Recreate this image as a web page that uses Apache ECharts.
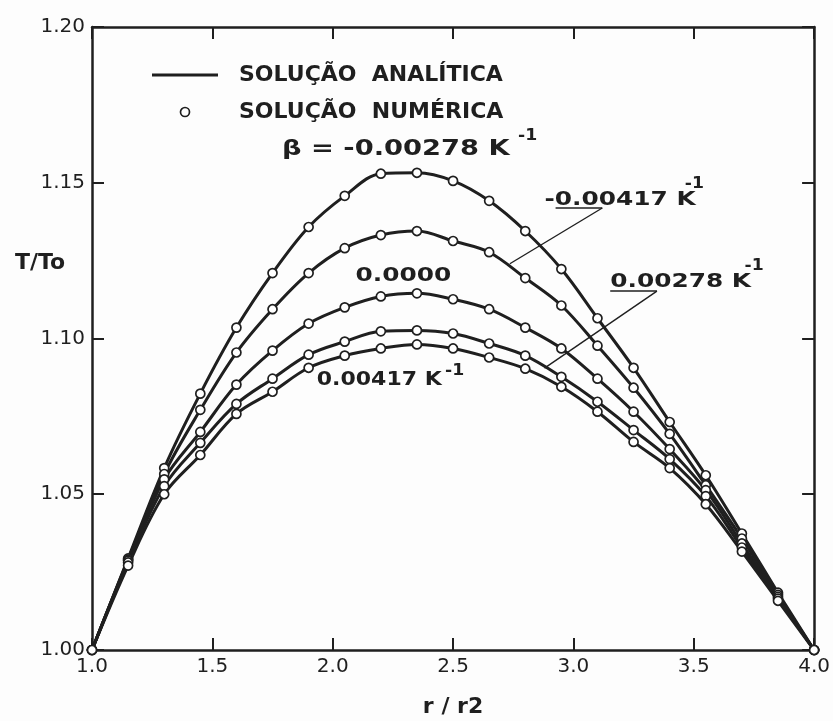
<!DOCTYPE html>
<html>
<head>
<meta charset="utf-8">
<script src="https://cdn.jsdelivr.net/npm/echarts@6/dist/echarts.min.js"></script>
<style>
  html, body { margin: 0; padding: 0; background: #fdfdfd; }
  #chart { width: 833px; height: 721px; }
</style>
</head>
<body>
<div id="chart"></div>
<script>
// Radial nodes r/r2 where the temperature is evaluated
const radius = [1.00, 1.15, 1.30, 1.45, 1.60, 1.75, 1.90, 2.05, 2.20, 2.35, 2.50,
                2.65, 2.80, 2.95, 3.10, 3.25, 3.40, 3.55, 3.70, 3.85, 4.00];

// T/To profiles, one per value of beta (K^-1)
const tBetaNeg00278 = [1.0000, 1.0294, 1.0584, 1.0823, 1.1035, 1.1210, 1.1358, 1.1458, 1.1529, 1.1532, 1.1506,
                       1.1442, 1.1345, 1.1223, 1.1065, 1.0906, 1.0732, 1.0561, 1.0374, 1.0184, 1.0000];
const tBetaNeg00417 = [1.0000, 1.0290, 1.0565, 1.0771, 1.0955, 1.1094, 1.1210, 1.1290, 1.1332, 1.1345, 1.1313,
                       1.1277, 1.1194, 1.1106, 1.0977, 1.0842, 1.0694, 1.0529, 1.0358, 1.0177, 1.0000];
const tBetaZero     = [1.0000, 1.0287, 1.0548, 1.0700, 1.0852, 1.0961, 1.1048, 1.1100, 1.1135, 1.1145, 1.1126,
                       1.1094, 1.1035, 1.0968, 1.0871, 1.0765, 1.0645, 1.0513, 1.0342, 1.0171, 1.0000];
const tBetaPos00278 = [1.0000, 1.0281, 1.0526, 1.0665, 1.0790, 1.0871, 1.0948, 1.0990, 1.1023, 1.1026, 1.1016,
                       1.0984, 1.0945, 1.0877, 1.0797, 1.0706, 1.0613, 1.0494, 1.0329, 1.0165, 1.0000];
const tBetaPos00417 = [1.0000, 1.0271, 1.0500, 1.0626, 1.0758, 1.0829, 1.0906, 1.0945, 1.0968, 1.0981, 1.0968,
                       1.0939, 1.0903, 1.0845, 1.0765, 1.0668, 1.0584, 1.0468, 1.0316, 1.0158, 1.0000];

const betaLabels = ['-0.00278', '-0.00417', '0.0000', '0.00278', '0.00417'];
const profiles   = [tBetaNeg00278, tBetaNeg00417, tBetaZero, tBetaPos00278, tBetaPos00417];

const seriesNames = ['SOLUÇÃO  ANALÍTICA', 'SOLUÇÃO  NUMÉRICA'];
const xTickLabels = ['1.0', '1.5', '2.0', '2.5', '3.0', '3.5', '4.0'];
const yTickLabels = ['1.00', '1.05', '1.10', '1.15', '1.20'];
const xAxisTitle = 'r / r2';
const yAxisTitle = 'T/To';

// ---- styling ----
const INK = '#1f1f1f';
const X_MIN = 1, X_MAX = 4, X_STEP = 0.5;
const Y_MIN = 1, Y_MAX = 1.2, Y_STEP = 0.05;

const tickLabelFont = { fontFamily: 'DejaVu Sans', fontSize: 20, color: INK };

const xLabel = v => xTickLabels[Math.round((v - X_MIN) / X_STEP)];
const yLabel = v => yTickLabels[Math.round((v - Y_MIN) / Y_STEP)];

function frameAxis(extra) {
  return Object.assign({
    type: 'value',
    axisLine: { show: true, onZero: false, lineStyle: { color: INK, width: 2.5 } },
    axisTick: { show: true, inside: true, length: 12, lineStyle: { color: INK, width: 2 } },
    splitLine: { show: false }
  }, extra);
}

const pairs = arr => radius.map((r, i) => [r, arr[i]]);

const series = [];
profiles.forEach(p => {
  series.push({
    name: seriesNames[0],
    type: 'line',
    data: pairs(p),
    smooth: 0.35,
    symbol: 'none',
    lineStyle: { color: INK, width: 3 },
    itemStyle: { color: INK },
    z: 2,
    animation: false
  });
});
profiles.forEach(p => {
  series.push({
    name: seriesNames[1],
    type: 'scatter',
    data: pairs(p),
    symbol: 'circle',
    symbolSize: 9,
    itemStyle: { color: '#ffffff', borderColor: INK, borderWidth: 1.7, opacity: 1 },
    z: 4,
    animation: false
  });
});

// leader lines pointing from the underlined labels to their curves
series[0].markLine = {
  silent: true,
  animation: false,
  symbol: ['none', 'arrow'],
  symbolSize: [0, 9],
  label: { show: false },
  lineStyle: { color: INK, width: 1.4, type: 'solid' },
  data: [
    [{ coord: [3.12, 1.1419] }, { coord: [2.736, 1.1240] }],
    [{ coord: [3.347, 1.1152] }, { coord: [2.880, 1.0905] }]
  ]
};
series[1].markLine = {
  silent: true,
  animation: false,
  symbol: ['none', 'none'],
  label: { show: false },
  lineStyle: { color: INK, width: 1.6, type: 'solid' },
  data: [
    [{ coord: [2.926, 1.1419] }, { coord: [3.12, 1.1419] }],
    [{ coord: [3.153, 1.1152] }, { coord: [3.347, 1.1152] }]
  ]
};

const chart = echarts.init(document.getElementById('chart'), null, { renderer: 'canvas' });

chart.setOption({
  backgroundColor: '#fdfdfd',
  animation: false,
  grid: { left: 92, right: 15, top: 27, bottom: 71, containLabel: false },
  legend: {
    data: [
      { name: seriesNames[0], icon: 'path://M0,0 H66 V3 H0 Z', itemStyle: { color: INK, borderWidth: 0 } },
      { name: seriesNames[1], icon: 'circle',
        itemStyle: { color: '#ffffff', borderColor: INK, borderWidth: 1.7 } }
    ],
    orient: 'vertical',
    left: 147,
    top: 58,
    itemWidth: 66,
    itemHeight: 9,
    itemGap: 13,
    selectedMode: false,
    textStyle: { fontFamily: 'DejaVu Sans', fontWeight: 'bold', fontSize: 22, lineHeight: 24,
                 color: INK, padding: [0, 0, 0, 16] }
  },
  xAxis: [
    frameAxis({
      position: 'bottom', min: X_MIN, max: X_MAX, interval: X_STEP,
      axisLabel: Object.assign({ formatter: xLabel, margin: 7 }, tickLabelFont)
    }),
    frameAxis({
      position: 'top', min: X_MIN, max: X_MAX, interval: X_STEP,
      axisLabel: { show: false }
    })
  ],
  yAxis: [
    frameAxis({
      position: 'left', min: Y_MIN, max: Y_MAX, interval: Y_STEP,
      axisLabel: Object.assign({ formatter: yLabel, margin: 7 }, tickLabelFont)
    }),
    frameAxis({
      position: 'right', min: Y_MIN, max: Y_MAX, interval: Y_STEP,
      axisLabel: { show: false }
    })
  ],
  series: series
});

// ---- text annotations anchored in data coordinates ----
const toPx = (x, y) => chart.convertToPixel({ xAxisIndex: 0, yAxisIndex: 0 }, [x, y]);

const notes = [
  { text: 'β = ' + betaLabels[0] + ' K', at: [1.789, 1.1606], size: 21, sx: 1.3 },
  { text: '-1',                          at: [2.770, 1.1650], size: 15, sx: 1.15 },
  { text: betaLabels[1] + ' K',          at: [2.880, 1.1445], size: 20, sx: 1.24 },
  { text: '-1',                          at: [3.463, 1.1495], size: 15, sx: 1.15 },
  { text: betaLabels[2],                 at: [2.095, 1.1200], size: 20, sx: 1.24 },
  { text: betaLabels[3] + ' K',          at: [3.153, 1.1181], size: 20, sx: 1.24 },
  { text: '-1',                          at: [3.711, 1.1233], size: 15, sx: 1.15 },
  { text: betaLabels[4] + ' K',          at: [1.934, 1.0867], size: 20, sx: 1.1 },
  { text: '-1',                          at: [2.467, 1.0896], size: 15, sx: 1.15 }
];

const graphics = notes.map(n => {
  const p = toPx(n.at[0], n.at[1]);
  return {
    type: 'text',
    x: p[0], y: p[1],
    scaleX: n.sx,
    z: 10,
    style: {
      text: n.text,
      fontFamily: 'DejaVu Sans',
      fontWeight: 'bold',
      fontSize: n.size,
      fill: INK,
      textAlign: 'left', align: 'left',
      textVerticalAlign: 'middle', verticalAlign: 'middle'
    }
  };
});

// axis titles
const yTitlePos = toPx(X_MIN, 1.1242);
graphics.push({
  type: 'text', x: yTitlePos[0] - 52, y: yTitlePos[1], z: 10,
  style: { text: yAxisTitle, fontFamily: 'DejaVu Sans', fontWeight: 'bold', fontSize: 22, fill: INK,
           textAlign: 'center', align: 'center', textVerticalAlign: 'middle', verticalAlign: 'middle' }
});
const xTitlePos = toPx((X_MIN + X_MAX) / 2, Y_MIN);
graphics.push({
  type: 'text', x: xTitlePos[0], y: xTitlePos[1] + 57, z: 10,
  style: { text: xAxisTitle, fontFamily: 'DejaVu Sans', fontWeight: 'bold', fontSize: 22, fill: INK,
           textAlign: 'center', align: 'center', textVerticalAlign: 'middle', verticalAlign: 'middle' }
});

chart.setOption({ graphic: graphics });
</script>
</body>
</html>
